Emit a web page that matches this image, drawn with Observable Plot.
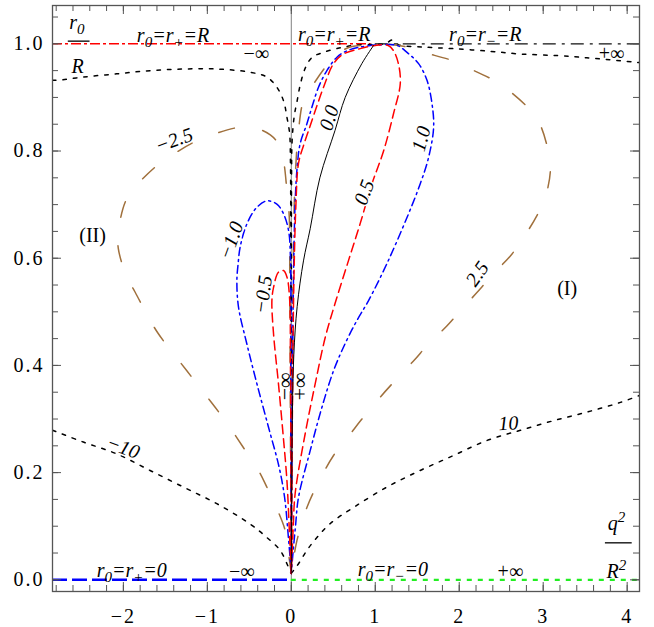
<!DOCTYPE html>
<html><head><meta charset="utf-8">
<script src="https://cdn.jsdelivr.net/npm/d3@7"></script>
<script src="https://cdn.jsdelivr.net/npm/@observablehq/plot@0.6"></script>
<style>
body{margin:0;background:#fff;}
svg{display:block;}
svg text{font-family:"Liberation Serif","Times New Roman",serif;}
svg g[aria-label*="tick label"] text{letter-spacing:2px;}
</style>
</head><body><div id="chart"></div>
<script>
// ---- axes / ticks ----
const xDomain = [-2.844, 4.147];
const yDomain = [-0.0218, 1.0715];
const xTicks = [-2, -1, 0, 1, 2, 3, 4];
const xTickLabels = ["−2", "−1", "0", "1", "2", "3", "4"];
const yTicks = [0, 0.2, 0.4, 0.6, 0.8, 1.0];
const yTickLabels = ["0.0", "0.2", "0.4", "0.6", "0.8", "1.0"];
const xMinor = d3.range(-14, 21).map(i => i / 5);
const yMinor = d3.range(0, 22).map(i => i / 20);

// ---- contour curves (q²/R², r0/R) ----
const c00 = [[0,0.012],[0.004,0.15],[0.012,0.3],[0.03,0.42],[0.07,0.51],[0.145,0.595],[0.225,0.655],[0.34,0.75],[0.52,0.838],[0.642,0.9],[0.84,0.963],[0.98,0.997]];
const cP05 = [[0,0.012],[0.006,0.15],[0.015,0.35],[0.03,0.55],[0.055,0.7],[0.086,0.777],[0.145,0.81],[0.205,0.838],[0.285,0.875],[0.384,0.919],[0.503,0.963],[0.622,0.981],[0.821,0.991],[1.0,0.997],[1.154,0.997],[1.214,0.988],[1.274,0.964],[1.298,0.926],[1.218,0.870],[1.099,0.8],[0.961,0.739],[0.821,0.665],[0.682,0.596],[0.52,0.515],[0.404,0.452],[0.285,0.366],[0.166,0.273],[0.046,0.161],[0.023,0.098],[0,0.012]];
const cP10 = [[0,0.012],[0.005,0.15],[0.012,0.35],[0.025,0.55],[0.045,0.7],[0.07,0.77],[0.106,0.814],[0.186,0.851],[0.246,0.882],[0.324,0.919],[0.424,0.950],[0.544,0.975],[0.663,0.987],[0.821,0.994],[1.05,0.998],[1.259,0.997],[1.378,0.984],[1.516,0.963],[1.616,0.932],[1.676,0.888],[1.695,0.844],[1.635,0.788],[1.536,0.739],[1.378,0.676],[1.139,0.590],[0.92,0.521],[0.782,0.484],[0.642,0.441],[0.503,0.390],[0.365,0.322],[0.225,0.241],[0.086,0.154],[0.05,0.1],[0.02,0.05],[0,0.012]];
const cP25 = [[0,0.012],[0.004,0.15],[0.01,0.35],[0.02,0.55],[0.035,0.7],[0.06,0.79],[0.086,0.838],[0.145,0.894],[0.265,0.925],[0.404,0.956],[0.544,0.981],[0.702,0.994],[0.821,0.997],[1.1,1.0],[1.378,0.994],[1.576,0.984],[1.914,0.969],[2.093,0.956],[2.410,0.932],[2.589,0.913],[2.847,0.876],[2.967,0.848],[3.066,0.795],[3.086,0.764],[3.026,0.714],[2.927,0.680],[2.768,0.639],[2.629,0.608],[2.371,0.565],[2.251,0.543],[2.013,0.502],[1.855,0.474],[1.616,0.437],[1.477,0.412],[1.238,0.372],[1.060,0.341],[0.841,0.300],[0.702,0.272],[0.503,0.232],[0.324,0.182],[0.186,0.135],[0.067,0.073],[0,0.012]];
const cN25 = [[0,0.012],[-0.025,0.04],[-0.073,0.092],[-0.153,0.126],[-0.291,0.173],[-0.391,0.204],[-0.589,0.251],[-0.708,0.279],[-0.907,0.322],[-1.046,0.350],[-1.244,0.390],[-1.384,0.418],[-1.583,0.459],[-1.702,0.490],[-1.861,0.537],[-1.959,0.565],[-2.06,0.618],[-2.06,0.649],[-1.98,0.704],[-1.881,0.729],[-1.622,0.770],[-1.464,0.788],[-1.166,0.816],[-0.967,0.829],[-0.629,0.844],[-0.43,0.843],[-0.25,0.83],[-0.153,0.813],[-0.093,0.782],[-0.052,0.726],[-0.025,0.68],[-0.018,0.55],[-0.012,0.35],[-0.006,0.15],[0,0.012]];
const cN10 = [[0,0.012],[-0.035,0.08],[-0.08,0.154],[-0.145,0.210],[-0.272,0.285],[-0.410,0.366],[-0.529,0.440],[-0.629,0.509],[-0.648,0.558],[-0.633,0.590],[-0.609,0.621],[-0.529,0.664],[-0.410,0.695],[-0.291,0.707],[-0.172,0.701],[-0.093,0.683],[-0.033,0.652],[-0.01,0.6],[-0.006,0.4],[-0.003,0.2],[0,0.012]];
const cN05 = [[0,0.012],[-0.02,0.08],[-0.052,0.185],[-0.1,0.275],[-0.153,0.366],[-0.212,0.460],[-0.231,0.521],[-0.212,0.545],[-0.153,0.574],[-0.093,0.577],[-0.052,0.565],[-0.021,0.527],[-0.01,0.4],[-0.004,0.2],[0,0.012]];
const cNInf = [[-2.844,0.932],[-2.775,0.932],[-2.477,0.938],[-2.079,0.944],[-1.682,0.950],[-1.285,0.953],[-0.887,0.953],[-0.490,0.947],[-0.291,0.938],[-0.172,0.919],[-0.093,0.894],[-0.052,0.863],[-0.02,0.833],[-0.01,0.78],[-0.006,0.6],[-0.004,0.4],[-0.002,0.2],[0,0.012]];
const cPInf = [[0,0.012],[0.002,0.4],[0.003,0.75],[0.01,0.82],[0.035,0.865],[0.07,0.894],[0.11,0.926],[0.17,0.956],[0.25,0.975],[0.38,0.984],[0.54,0.991],[0.74,0.997],[0.98,0.999],[1.12,1.0],[1.2,1.007],[1.28,0.998],[1.57,0.994],[1.93,0.991],[2.37,0.986],[2.73,0.981],[3.17,0.978],[3.52,0.974],[4.147,0.965]];
const cN100 = [[-2.844,0.279],[-2.477,0.257],[-2.079,0.235],[-1.682,0.204],[-1.285,0.173],[-0.887,0.142],[-0.490,0.104],[-0.291,0.079],[-0.132,0.055],[-0.052,0.030],[-0.013,0.016],[0,0.012]];
const cP100 = [[0,0.012],[0.03,0.018],[0.086,0.030],[0.186,0.055],[0.305,0.079],[0.464,0.105],[0.741,0.135],[1.139,0.173],[1.536,0.204],[1.933,0.232],[2.331,0.260],[2.728,0.279],[3.125,0.297],[3.523,0.313],[3.920,0.331],[4.147,0.344]];

// ---- boundary lines (r0 = r± = R, r0 = r± = 0) ----
const boundaryY = [1.0, 1.0, 0, 0];
const boundaryX1 = [-2.844, 1.0, -2.844, 0];
const boundaryX2 = [0.95, 4.147, 0, 4.147];

// ---- labels ----
const contourLabelText = ["−2.5", "−1.0", "−0.5", "0.0", "0.5", "1.0", "2.5", "−10", "10"];
const contourLabelX = [-1.396, -0.716, -0.335, 0.451, 0.869, 1.549, 2.216, -2.003, 2.585];
const contourLabelY = [0.820, 0.633, 0.532, 0.862, 0.723, 0.823, 0.571, 0.247, 0.292];
const contourLabelAngle = [-20, -70, -82, -72, -70, -75, -55, 20, -3];

const plainLabelText = ["(II)", "(I)", "−∞", "+∞", "−∞", "+∞", "−∞", "+∞"];
const plainLabelX = [-2.367, 3.285, -0.073, 0.106, -0.418, 3.813, -0.589, 2.609];
const plainLabelY = [0.642, 0.543, 0.361, 0.361, 0.982, 0.982, 0.0155, 0.0155];
const plainLabelAngle = [0, 0, -90, -90, 0, 0, 0, 0];
const plainLabelSize = [20, 20, 22, 22, 20, 20, 20, 20];

const caseLabelText = ["r_0=r_+=R", "r_0=r_+=R", "r_0=r_−=R", "r_0=r_+=0", "r_0=r_−=0"];
const caseLabelX = [-1.408, 0.511, 2.311, -1.9, 1.209];
const caseLabelY = [1.016, 1.017, 1.017, 0.017, 0.020];

const axisLabelText = ["r_0", "R", "q^2", "R^2"];
const axisLabelX = [-2.555, -2.545, 3.872, 3.872];
const axisLabelY = [1.040, 0.958, 0.105, 0.0155];
const fracBarY = [1.005, 0.069];
const fracBarX1 = [-2.656, 3.741];
const fracBarX2 = [-2.397, 4.060];

const FONT = "Liberation Serif, Times New Roman, serif";
const idx = a => a.map((_, i) => i);
const P = d => d[0], Q = d => d[1];
const lineOpts = (stroke, dash, w) => ({x: P, y: Q, stroke, strokeDasharray: dash, strokeWidth: w, curve: "catmull-rom", clip: true});

const W = 654 - 52 - 15, H = 627 - 5 - 36;
const AX = "#555";

const plot = Plot.plot({
  width: 654, height: 627,
  marginLeft: 52, marginRight: 15, marginTop: 5, marginBottom: 36,
  x: {domain: xDomain},
  y: {domain: yDomain},
  style: {fontFamily: FONT, background: "white", color: "black"},
  marks: [
    Plot.ruleY([0], {y: () => boundaryY[0], x1: () => boundaryX1[0], x2: () => boundaryX2[0], stroke: "#f00", strokeWidth: 1.6, strokeDasharray: "10,3,3,3"}),
    Plot.ruleY([1], {y: () => boundaryY[1], x1: () => boundaryX1[1], x2: () => boundaryX2[1], stroke: "#111", strokeWidth: 1.3, strokeDasharray: "13,6,3,6"}),
    Plot.ruleX([0], {stroke: "#808080", strokeWidth: 1}),
    Plot.line(cNInf, lineOpts("#000", "3.5,7", 1.5)),
    Plot.line(cPInf, lineOpts("#000", "3.5,7", 1.5)),
    Plot.line(cN100, lineOpts("#000", "3.5,7", 1.5)),
    Plot.line(cP100, lineOpts("#000", "3.5,7", 1.5)),
    Plot.line(cN25, lineOpts("#a0703c", "16,29", 1.5)),
    Plot.line(cP25, lineOpts("#a0703c", "16,29", 1.5)),
    Plot.line(cN10, lineOpts("#0000ff", "8,4,2,4", 1.5)),
    Plot.line(cP10, lineOpts("#0000ff", "8,4,2,4", 1.5)),
    Plot.line(cN05, lineOpts("#ff0000", "9,5", 1.5)),
    Plot.line(cP05, lineOpts("#ff0000", "9,5", 1.5)),
    Plot.line(c00, lineOpts("#000", null, 1)),
    Plot.ruleY([2], {y: () => boundaryY[2], x1: () => boundaryX1[2], x2: () => boundaryX2[2], stroke: "#0000ff", strokeWidth: 2.4, strokeDasharray: "15,5"}),
    Plot.ruleY([3], {y: () => boundaryY[3], x1: () => boundaryX1[3], x2: () => boundaryX2[3], stroke: "#22ee22", strokeWidth: 2.2, strokeDasharray: "5,6"}),
    Plot.frame({stroke: AX, strokeWidth: 1.3}),
    Plot.ruleX(xMinor, {stroke: AX, insetTop: H - 6}),
    Plot.ruleX(xTicks, {stroke: AX, insetTop: H - 9}),
    Plot.ruleX(xMinor, {stroke: AX, insetBottom: H - 6}),
    Plot.ruleX(xTicks, {stroke: AX, insetBottom: H - 9}),
    Plot.ruleY(yMinor, {stroke: AX, insetRight: W - 6}),
    Plot.ruleY(yTicks, {stroke: AX, insetRight: W - 9}),
    Plot.ruleY(yMinor, {stroke: AX, insetLeft: W - 6}),
    Plot.ruleY(yTicks, {stroke: AX, insetLeft: W - 9}),
    Plot.axisX(xTicks, {anchor: "bottom", tickSize: 0, tickPadding: 17, fontSize: 20, label: null, tickFormat: d => xTickLabels[xTicks.indexOf(d)]}),
    Plot.axisY(yTicks, {anchor: "left", tickSize: 0, tickPadding: 8, fontSize: 20, label: null, tickFormat: d => yTickLabels[yTicks.indexOf(d)]}),
    Plot.text(idx(contourLabelText), {x: i => contourLabelX[i], y: i => contourLabelY[i], text: i => contourLabelText[i], rotate: i => contourLabelAngle[i], fontSize: 20, fontStyle: "italic", fill: "black", stroke: "white", strokeWidth: 3}),
    Plot.text(idx(plainLabelText), {x: i => plainLabelX[i], y: i => plainLabelY[i], text: i => plainLabelText[i], rotate: i => plainLabelAngle[i], fontSize: i => plainLabelSize[i], fill: "black"}),
    Plot.text(idx(caseLabelText), {x: i => caseLabelX[i], y: i => caseLabelY[i], text: i => caseLabelText[i], fontSize: 20, fontStyle: "italic", fill: "black"}),
    Plot.text(idx(axisLabelText), {x: i => axisLabelX[i], y: i => axisLabelY[i], text: i => axisLabelText[i], fontSize: 20, fontStyle: "italic", fill: "black"}),
    Plot.ruleY(idx(fracBarY), {y: i => fracBarY[i], x1: i => fracBarX1[i], x2: i => fracBarX2[i], stroke: "black", strokeWidth: 1.3})
  ]
});

// sub/superscripts in label texts
plot.querySelectorAll("text").forEach(t => {
  const s = t.textContent;
  if (!/[_^]/.test(s)) return;
  while (t.firstChild) t.removeChild(t.firstChild);
  const NS = "http://www.w3.org/2000/svg";
  let shift = 0;
  for (let k = 0; k < s.length; k++) {
    const ch = s[k];
    const span = document.createElementNS(NS, "tspan");
    if ((ch === "_" || ch === "^") && k + 1 < s.length) {
      const d = ch === "_" ? 5 : -8;
      span.textContent = s[k + 1];
      span.setAttribute("font-size", "15");
      span.setAttribute("dy", String(d - shift));
      shift = d;
      k++;
    } else {
      span.textContent = ch;
      if (shift !== 0) { span.setAttribute("dy", String(-shift)); shift = 0; }
    }
    t.appendChild(span);
  }
});

document.getElementById("chart").appendChild(plot);
</script>
</body></html>
